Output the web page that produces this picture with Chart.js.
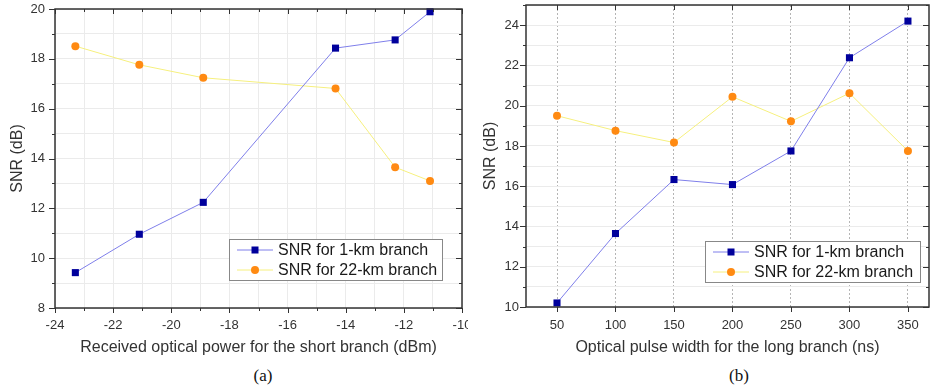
<!DOCTYPE html>
<html>
<head>
<meta charset="utf-8">
<script src="https://cdn.jsdelivr.net/npm/chart.js@4.4.0/dist/chart.umd.min.js"></script>
<style>
    body { margin: 0; background: #fff; width: 934px; height: 390px; position: relative; overflow: hidden; }
    canvas { position: absolute; top: 0; }
    #chartA { left: 0; }
    #chartB { left: 466px; }
    .cap { position: absolute; top: 366px; font-family: "Liberation Serif", "Times New Roman", serif; font-size: 17px; color: #111; transform: translateX(-50%); }
</style>
</head>
<body>
<canvas id="chartA" width="468" height="360"></canvas>
<canvas id="chartB" width="468" height="360"></canvas>
<div class="cap" style="left:263px">(a)</div>
<div class="cap" style="left:739px">(b)</div>
<script>
// --- datos panel (a) ---
const powerA = [-23.3, -21.1, -18.9, -14.35, -12.3, -11.1];
const snr1kmA = [9.42, 10.96, 12.24, 18.43, 18.76, 19.89];
const snr22kmA = [18.51, 17.76, 17.24, 16.81, 13.65, 13.1];
const xTicksA = [-24, -22, -20, -18, -16, -14, -12, -10];
const yTicksA = [8, 10, 12, 14, 16, 18, 20];

// --- datos panel (b) ---
const pulseB = [50, 100, 150, 200, 250, 300, 350];
const snr1kmB = [10.2, 13.65, 16.33, 16.08, 17.75, 22.38, 24.2];
const snr22kmB = [19.5, 18.76, 18.17, 20.44, 19.22, 20.62, 17.75];
const yTicksB = [10, 12, 14, 16, 18, 20, 22, 24];

const labels = ['SNR for 1-km branch', 'SNR for 22-km branch'];
const FONT = '"Liberation Sans", Arial, sans-serif';

// minor ticks between major ones
function withMinor(major) {
    const out = [];
    major.forEach((v, i) => {
        out.push(v);
        if (i < major.length - 1) out.push((v + major[i + 1]) / 2);
    });
    return out;
}

// fixed axis size, no extra label padding
function fixSize(prop, size) {
    return s => {
        s[prop] = size;
        s.paddingTop = 0; s.paddingBottom = 0; s.paddingLeft = 0; s.paddingRight = 0;
    };
}

// marco, ticks en los 4 lados y leyenda dentro del área
const framePlugin = {
    id: 'frame',
    afterDraw(chart, args, opts) {
        const { ctx, chartArea: a, scales } = chart;
        const xs = scales.x, ys = scales.y;
        ctx.save();
        ctx.strokeStyle = '#333';
        ctx.lineWidth = 1;
        const seg = (x1, y1, x2, y2) => { ctx.beginPath(); ctx.moveTo(x1, y1); ctx.lineTo(x2, y2); ctx.stroke(); };
        opts.xTicks.forEach(v => {
            const len = opts.xMajor.includes(v) ? 5 : 3;
            const p = Math.round(xs.getPixelForValue(v)) + 0.5;
            seg(p, a.bottom, p, a.bottom + len);
            seg(p, a.top, p, a.top + len);
        });
        opts.yTicks.forEach(v => {
            const len = opts.yMajor.includes(v) ? 6 : 3;
            const p = Math.round(ys.getPixelForValue(v)) + 0.5;
            seg(a.left - len, p, a.left, p);
            seg(a.right - len, p, a.right, p);
        });
        ctx.lineWidth = 1.5;
        ctx.strokeRect(a.left, a.top, a.width, a.height);

        // leyenda
        const L = opts.legend;
        const bx = a.right - L.right - L.width, by = a.bottom - L.bottom - L.height;
        ctx.fillStyle = '#fff';
        ctx.fillRect(bx, by, L.width, L.height);
        ctx.strokeStyle = '#888';
        ctx.lineWidth = 1;
        ctx.strokeRect(bx + 0.5, by + 0.5, L.width, L.height);
        ctx.font = '16px ' + FONT;
        ctx.textBaseline = 'middle';
        chart.data.datasets.forEach((ds, i) => {
            const cy = by + 11 + i * 20;
            ctx.strokeStyle = ds.borderColor;
            ctx.lineWidth = 1;
            seg(bx + 8, cy, bx + 44, cy);
            ctx.fillStyle = ds.pointBackgroundColor;
            if (ds.pointStyle === 'rect') {
                ctx.fillRect(bx + 26 - 3.5, cy - 3.5, 7, 7);
            } else {
                ctx.beginPath(); ctx.arc(bx + 26, cy, 4, 0, Math.PI * 2); ctx.fill();
            }
            ctx.fillStyle = '#1a1a1a';
            ctx.fillText(ds.label, bx + 49, cy + 1);
        });
        ctx.restore();
    }
};

function makeDatasets(xs, s1, s2) {
    return [
        {
            label: labels[0],
            data: xs.map((x, i) => ({ x: x, y: s1[i] })),
            borderColor: '#7f7fea',
            borderWidth: 1,
            pointStyle: 'rect',
            pointRadius: 5,
            pointBackgroundColor: '#00009c',
            pointBorderColor: '#00009c',
            pointBorderWidth: 0,
            tension: 0,
            clip: false
        },
        {
            label: labels[1],
            data: xs.map((x, i) => ({ x: x, y: s2[i] })),
            borderColor: '#f6f07e',
            borderWidth: 1,
            pointStyle: 'circle',
            pointRadius: 4,
            pointBackgroundColor: '#ff8a12',
            pointBorderColor: '#ff8a12',
            pointBorderWidth: 0,
            tension: 0,
            clip: false
        }
    ];
}

const tickFont = { family: FONT, size: 13 };
const titleFont = { family: FONT, size: 16 };

// --- Panel (a) ---
const allXA = withMinor(xTicksA);
const allYA = withMinor(yTicksA);
new Chart(document.getElementById('chartA').getContext('2d'), {
    type: 'line',
    data: { datasets: makeDatasets(powerA, snr1kmA, snr22kmA) },
    options: {
        responsive: false,
        animation: false,
        layout: { padding: { top: 9, right: 6, left: 0, bottom: 0 } },
        plugins: {
            legend: { display: false },
            tooltip: { enabled: false },
            frame: {
                xTicks: allXA, xMajor: xTicksA, yTicks: allYA, yMajor: yTicksA,
                legend: { right: 20, bottom: 28, width: 213, height: 41 }
            }
        },
        scales: {
            x: {
                type: 'linear', min: -24, max: -10,
                afterBuildTicks: s => { s.ticks = allXA.map(v => ({ value: v })); },
                afterFit: fixSize('height', 52),
                ticks: { autoSkip: false, maxRotation: 0, padding: 10, color: '#333', font: tickFont,
                    callback: v => xTicksA.includes(v) ? String(v) : '' },
                grid: { color: '#ebebeb', drawTicks: false },
                border: { display: false },
                title: { display: true, text: 'Received optical power for the short branch (dBm)', color: '#333', font: titleFont, padding: { top: 0, bottom: 3 } }
            },
            y: {
                type: 'linear', min: 8, max: 20,
                afterBuildTicks: s => { s.ticks = allYA.map(v => ({ value: v })); },
                afterFit: fixSize('width', 55),
                ticks: { autoSkip: false, padding: 10, color: '#333', font: tickFont,
                    callback: v => yTicksA.includes(v) ? String(v) : '' },
                grid: { color: '#ebebeb', drawTicks: false },
                border: { display: false },
                title: { display: true, text: 'SNR (dB)', color: '#333', font: titleFont, padding: { top: 8, bottom: 0 } }
            }
        }
    },
    plugins: [framePlugin]
});

// --- Panel (b) ---
const allYB = withMinor(yTicksB).concat([25]);
new Chart(document.getElementById('chartB').getContext('2d'), {
    type: 'line',
    data: { datasets: makeDatasets(pulseB, snr1kmB, snr22kmB) },
    options: {
        responsive: false,
        animation: false,
        layout: { padding: { top: 5, right: 2, left: 0, bottom: 0 } },
        plugins: {
            legend: { display: false },
            tooltip: { enabled: false },
            frame: {
                xTicks: pulseB, xMajor: pulseB, yTicks: allYB, yMajor: yTicksB,
                legend: { right: 9, bottom: 25, width: 215, height: 41 }
            }
        },
        scales: {
            x: {
                type: 'linear', min: 23.5, max: 368,
                afterBuildTicks: s => { s.ticks = pulseB.map(v => ({ value: v })); },
                afterFit: fixSize('height', 53),
                ticks: { autoSkip: false, maxRotation: 0, padding: 11, color: '#333', font: tickFont,
                    callback: v => String(v) },
                grid: { color: '#b5b5b5', drawTicks: false },
                border: { display: false, dash: [2, 2] },
                title: { display: true, text: 'Optical pulse width for the long branch (ns)', color: '#333', font: titleFont, padding: { top: 0, bottom: 3 } }
            },
            y: {
                type: 'linear', min: 10, max: 25,
                afterBuildTicks: s => { s.ticks = allYB.map(v => ({ value: v })); },
                afterFit: fixSize('width', 60),
                ticks: { autoSkip: false, padding: 7, color: '#333', font: tickFont,
                    callback: v => yTicksB.includes(v) ? String(v) : '' },
                grid: { color: '#ebebeb', drawTicks: false },
                border: { display: false },
                title: { display: true, text: 'SNR (dB)', color: '#333', font: titleFont, padding: { top: 15, bottom: 0 } }
            }
        }
    },
    plugins: [framePlugin]
});
</script>
</body>
</html>
